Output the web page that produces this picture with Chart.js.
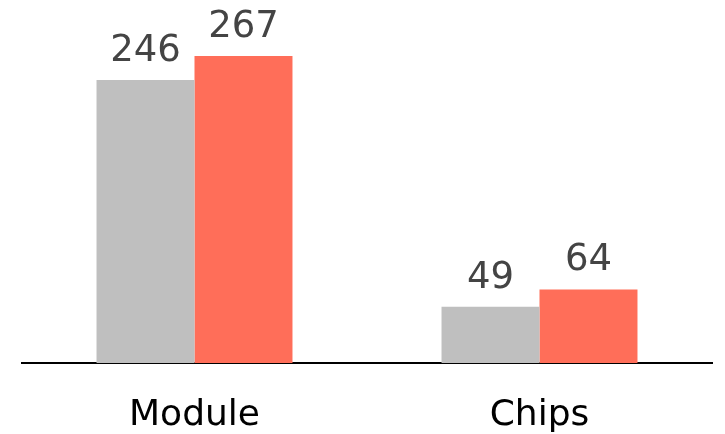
<!DOCTYPE html>
<html>
<head>
<meta charset="utf-8">
<script src="https://cdn.jsdelivr.net/npm/chart.js@4/dist/chart.umd.min.js"></script>
<style>
  html, body { margin: 0; padding: 0; background: #fff; }
  #wrap { width: 725px; height: 434px; }
</style>
</head>
<body>
<div id="wrap"><canvas id="bars"></canvas></div>
<script>
// Categories and the two series
const categories = ['Module', 'Chips'];
const seriesGrey = [246, 49];
const seriesRed = [267, 64];

const FONT = "'DejaVu Sans', Verdana, sans-serif";

// Value labels above every bar
const valueLabels = {
  id: 'valueLabels',
  afterDatasetsDraw(chart) {
    const ctx = chart.ctx;
    ctx.save();
    ctx.font = '37px ' + FONT;
    ctx.fillStyle = '#444444';
    ctx.textAlign = 'center';
    ctx.textBaseline = 'alphabetic';
    chart.data.datasets.forEach((ds, i) => {
      chart.getDatasetMeta(i).data.forEach((bar, j) => {
        ctx.fillText(String(ds.data[j]), bar.x, bar.y - 19);
      });
    });
    ctx.restore();
  }
};

new Chart(document.getElementById('bars').getContext('2d'), {
  type: 'bar',
  data: {
    labels: categories,
    datasets: [
      { data: seriesGrey, backgroundColor: '#bfbfbf', categoryPercentage: 0.568, barPercentage: 1 },
      { data: seriesRed, backgroundColor: '#ff6e59', categoryPercentage: 0.568, barPercentage: 1 }
    ]
  },
  options: {
    responsive: true,
    maintainAspectRatio: false,
    animation: false,
    layout: { padding: { top: 18, left: 22, right: 13, bottom: 0 } },
    plugins: {
      legend: { display: false },
      tooltip: { enabled: false }
    },
    scales: {
      x: {
        grid: { display: false, drawTicks: false },
        border: { display: true, color: '#000000', width: 2 },
        ticks: { color: '#000000', padding: 31, font: { family: FONT, size: 36 } },
        afterFit(scale) { scale.height = 71; }
      },
      y: {
        display: false,
        min: 0,
        max: 300
      }
    }
  },
  plugins: [valueLabels]
});
</script>
</body>
</html>
